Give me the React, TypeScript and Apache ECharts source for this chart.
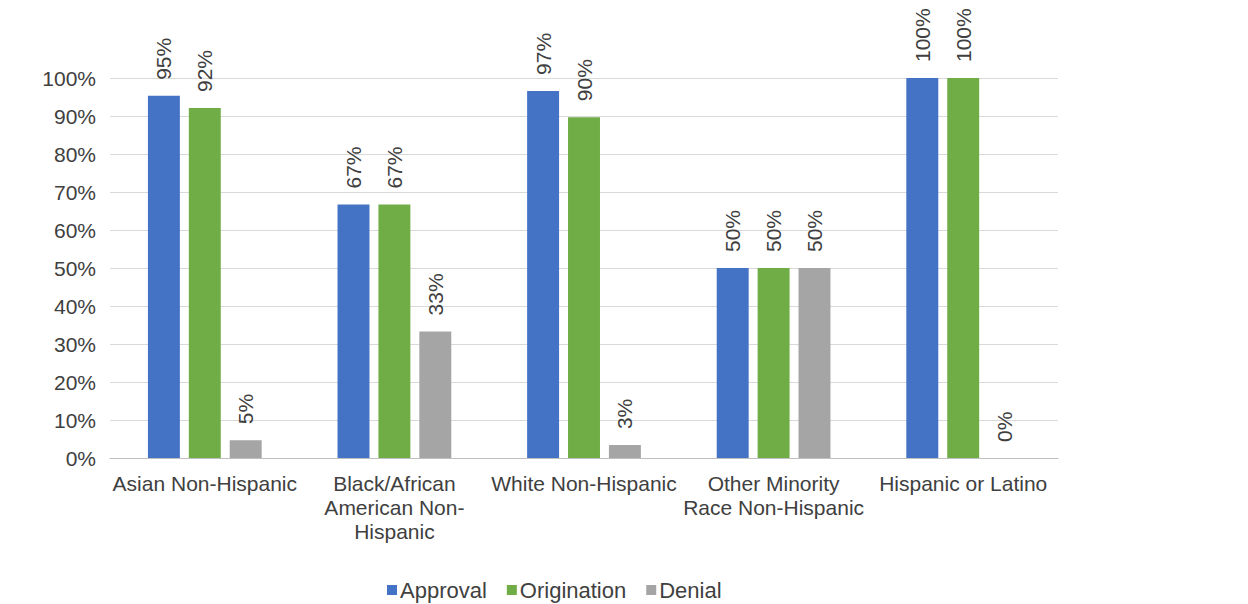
import React, { useEffect, useRef } from "react";
import * as echarts from "echarts";

const categories = [
  "Asian Non-Hispanic",
  "Black/African American Non-Hispanic",
  "White Non-Hispanic",
  "Other Minority Race Non-Hispanic",
  "Hispanic or Latino",
];
const categoryLines: Record<string, string> = {
  "Black/African American Non-Hispanic": "Black/African\nAmerican Non-\nHispanic",
  "Other Minority Race Non-Hispanic": "Other Minority\nRace Non-Hispanic",
};
const approval = [95.3, 66.7, 96.6, 50, 100];
const origination = [92.1, 66.7, 89.7, 50, 100];
const denial = [4.7, 33.3, 3.4, 50, 0];
const seriesNames = ["Approval", "Origination", "Denial"];
const colors = ["#4472C4", "#70AD47", "#A5A5A5"];

const FONT = "'Liberation Sans', Arial, sans-serif";

export default function App() {
  const ref = useRef<HTMLDivElement>(null);
  useEffect(() => {
    if (!ref.current) return;
    const chart = echarts.init(ref.current, undefined, { renderer: "svg" });
    const mk = (name: string, data: number[], color: string) => ({
      name,
      type: "bar",
      data,
      barGap: "28%",
      barCategoryGap: "40%",
      itemStyle: { color },
      label: {
        show: true,
        position: "top",
        rotate: 90,
        align: "left",
        verticalAlign: "middle",
        distance: 16,
        fontSize: 21,
        fontFamily: FONT,
        color: "#404040",
        formatter: (p: any) => Math.round(p.value) + "%",
      },
    });
    chart.setOption({
      animation: false,
      textStyle: { fontFamily: FONT },
      grid: { left: 102, right: 182, top: 70, bottom: 146, containLabel: false },
      legend: {
        top: 571,
        left: 379,
        padding: 0,
        itemWidth: 10,
        itemHeight: 10,
        itemGap: 20,
        icon: "rect",
        textStyle: { fontSize: 22, color: "#404040", fontFamily: FONT, padding: [0, 0, 0, -2] },
        data: seriesNames,
      },
      xAxis: {
        type: "category",
        data: categories,
        axisTick: { show: false },
        axisLine: { lineStyle: { color: "#BFBFBF", width: 1 } },
        axisLabel: {
          interval: 0,
          margin: 13,
          fontSize: 21,
          lineHeight: 24,
          color: "#404040",
          fontFamily: FONT,
          formatter: (v: string) => categoryLines[v] || v,
        },
      },
      yAxis: {
        type: "value",
        min: 0,
        max: 100,
        interval: 10,
        axisLine: { show: false },
        axisTick: { show: false },
        splitLine: { lineStyle: { color: "#D9D9D9", width: 1 } },
        axisLabel: {
          fontSize: 21,
          color: "#404040",
          fontFamily: FONT,
          margin: 14,
          formatter: "{value}%",
        },
      },
      series: [
        mk(seriesNames[0], approval, colors[0]),
        mk(seriesNames[1], origination, colors[1]),
        mk(seriesNames[2], denial, colors[2]),
      ],
    });
    return () => chart.dispose();
  }, []);
  return <div ref={ref} style={{ width: 1232, height: 596 }} />;
}
